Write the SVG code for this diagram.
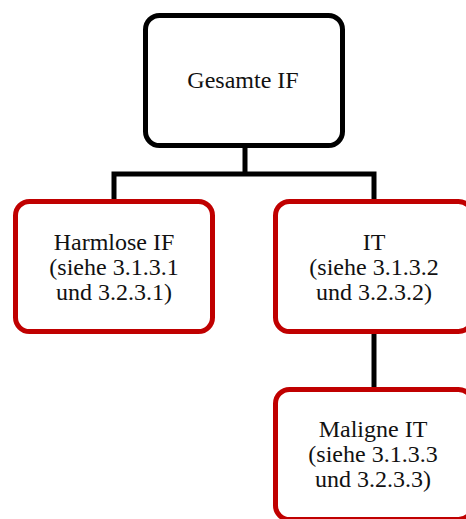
<svg xmlns="http://www.w3.org/2000/svg" width="466" height="519" viewBox="0 0 466 519">
<style>
.box{fill:#fff;stroke-width:5}
.root{stroke:#000}
.red{stroke:#C00000}
.conn{stroke:#000;stroke-width:5;fill:none;stroke-linecap:square}
text{font-family:'Liberation Serif','Times New Roman',serif;font-size:24px;fill:#111;text-anchor:middle}
</style>
<rect width="466" height="519" fill="#fff"/>
<g id="connectors">
<path class="conn" d="M245 148 V174 M114 174 H374 M114 174 V199 M374 174 V199"/>
<path class="conn" d="M374 334 V387"/>
</g>
<g id="gesamte">
<rect class="box root" x="145.5" y="15.5" width="197" height="130" rx="14"/>
<text x="243" y="88">Gesamte IF</text>
</g>
<g id="harmlose">
<rect class="box red" x="15.5" y="201.5" width="197" height="130" rx="14"/>
<text x="114" y="250">Harmlose IF</text>
<text x="114" y="275">(siehe 3.1.3.1</text>
<text x="114" y="300">und 3.2.3.1)</text>
</g>
<g id="it">
<rect class="box red" x="275.5" y="201.5" width="197" height="130" rx="14"/>
<text x="374" y="250">IT</text>
<text x="374" y="275">(siehe 3.1.3.2</text>
<text x="374" y="300">und 3.2.3.2)</text>
</g>
<g id="maligne">
<rect class="box red" x="275.5" y="389.5" width="197" height="130" rx="14"/>
<text x="373" y="437">Maligne IT</text>
<text x="373" y="462">(siehe 3.1.3.3</text>
<text x="373" y="487">und 3.2.3.3)</text>
</g>
</svg>
